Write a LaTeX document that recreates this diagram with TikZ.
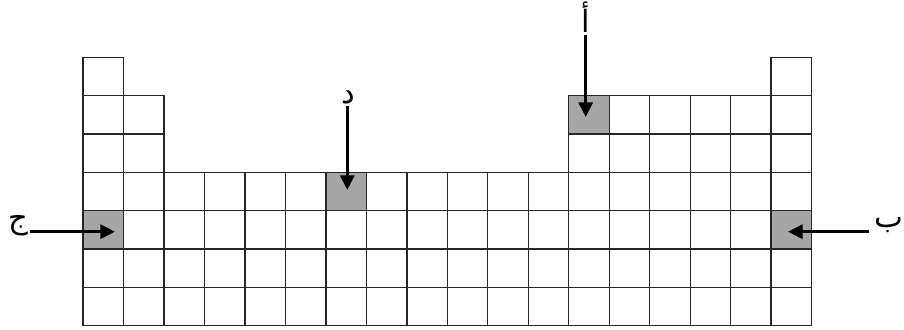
\documentclass[tikz,border=0pt]{standalone}
\usepackage{fontspec}
\newfontfamily\arabicfont[Script=Arabic]{DejaVu Sans}
\TeXXeTstate=1
\usetikzlibrary{arrows.meta}

\begin{document}
\begin{tikzpicture}[x=0.75pt, y=-0.75pt,
  cell/.style={draw=black!85, line width=1pt},
  hit/.style={cell, fill=black!35},
  pointer/.style={line width=2.3pt, -{Triangle[length=11pt,width=10.5pt]}},
  lbl/.style={font=\arabicfont\fontsize{23}{26}\selectfont, inner sep=1.5pt}]
  \useasboundingbox (0,0) rectangle (904,329);
  \def\cw{40.48} \def\ch{38.35}
  % the table, column by column
  \foreach \c/\t in {1/1,2/2,3/4,4/4,5/4,6/4,7/4,8/4,9/4,10/4,11/4,12/4,13/2,14/2,15/2,16/2,17/2,18/1}
    \foreach \r in {\t,...,7}
      \draw[cell] ({83+(\c-1)*\cw},{57.3+(\r-1)*\ch}) rectangle +(\cw,\ch);
  % marked cells
  \foreach \c/\r in {1/5,18/5,13/2,7/4}
    \draw[hit] ({83+(\c-1)*\cw},{57.3+(\r-1)*\ch}) rectangle +(\cw,\ch);
  % labels and arrows
  \node[lbl] (jeem) at (18,226) {\beginR ج\endR};
  \node[lbl, inner xsep=4pt] (baa) at (889,225) {\beginR ب\endR};
  \node[lbl] (alef) at (586,17) {\beginR أ\endR};
  \node[lbl] (dal) at (348,97) {\beginR د\endR};
  \coordinate (jeemtip) at (115,231.7);
  \coordinate (baatip) at (788,231.7);
  \coordinate (aleftip) at (585.7,117);
  \coordinate (daltip) at (347.3,190);
  \draw[pointer] (jeem.east |- jeemtip) -- (jeemtip);
  \draw[pointer] (baa.west |- baatip) -- (baatip);
  \draw[pointer] (alef.south -| aleftip) -- (aleftip);
  \draw[pointer] (dal.south -| daltip) -- (daltip);
\end{tikzpicture}
\end{document}
